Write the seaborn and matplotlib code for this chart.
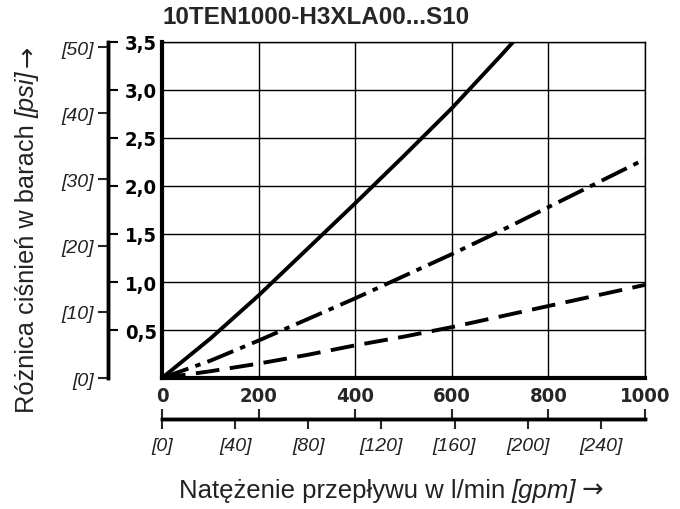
import numpy as np
import pandas as pd
import matplotlib
matplotlib.use("Agg")
import matplotlib.pyplot as plt
import seaborn as sns

# ---- data ----
title = "10TEN1000-H3XLA00...S10"
solid_x = [0, 100, 200, 300, 400, 500, 600, 700, 727]
solid_y = [0, 0.41, 0.86, 1.34, 1.82, 2.31, 2.81, 3.35, 3.5]
dashdot_x = [0, 100, 200, 300, 400, 500, 600, 700, 800, 900, 1000]
dashdot_y = [0, 0.18, 0.39, 0.61, 0.83, 1.06, 1.29, 1.53, 1.78, 2.03, 2.28]
dashed_x = [0, 100, 200, 300, 400, 500, 600, 700, 800, 900, 1000]
dashed_y = [0, 0.07, 0.15, 0.24, 0.34, 0.43, 0.53, 0.64, 0.75, 0.86, 0.97]

bar_ticks = [0.5, 1.0, 1.5, 2.0, 2.5, 3.0, 3.5]
bar_labels = ["0,5", "1,0", "1,5", "2,0", "2,5", "3,0", "3,5"]
psi_ticks = [0, 10, 20, 30, 40, 50]
psi_labels = ["[0]", "[10]", "[20]", "[30]", "[40]", "[50]"]
lpm_ticks = [0, 200, 400, 600, 800, 1000]
lpm_labels = ["0", "200", "400", "600", "800", "1000"]
gpm_ticks = [0, 40, 80, 120, 160, 200, 240]
gpm_labels = ["[0]", "[40]", "[80]", "[120]", "[160]", "[200]", "[240]"]
xlabel_parts = ["Natężenie przepływu w l/min", "[gpm]", "→"]
ylabel_parts = ["Różnica ciśnień w barach", "[psi]", "→"]
PSI_PER_BAR = 14.5038
LPM_PER_GPM = 3.78541

sns.set_theme(style="white")
plt.rcParams["font.family"] = ["Liberation Sans", "DejaVu Sans"]

W, H = 680, 510
fig = plt.figure(figsize=(W / 100, H / 100), dpi=100)
L, R, T, B = 162, 645, 43, 379
ax = fig.add_axes([L / W, 1 - B / H, (R - L) / W, (B - T) / H])

bold_cond = dict(family=["DejaVu Sans"], stretch="condensed", weight="bold", size=14.5)

df = pd.concat([
    pd.DataFrame({"x": solid_x, "y": solid_y, "s": "solid"}),
    pd.DataFrame({"x": dashdot_x, "y": dashdot_y, "s": "dashdot"}),
    pd.DataFrame({"x": dashed_x, "y": dashed_y, "s": "dashed"}),
])
styles = {"solid": None, "dashdot": (7.2, 1.9, 1.4, 1.9), "dashed": (6.1, 2.7)}
for name, dash in styles.items():
    sub = df[df.s == name]
    sns.lineplot(data=sub, x="x", y="y", ax=ax, color="black", lw=2.8, legend=False)
    l = ax.lines[-1]
    if dash is not None:
        l.set_dashes(dash)
    l.set_dash_capstyle("butt")
    l.set_solid_joinstyle("round")

ax.set_xlim(0, 1000)
ax.set_ylim(0, 3.5)
ax.set_xticks(lpm_ticks)
ax.set_xticklabels(lpm_labels, **bold_cond)
ax.set_yticks(bar_ticks)
ax.tick_params(axis="both", length=0)
ax.tick_params(axis="x", pad=6)
ax.tick_params(axis="y", left=False, labelleft=False)
ax.set_xlabel("")
ax.set_ylabel("")
ax.grid(True, color="black", lw=1.0)
for s in ["top", "right"]:
    ax.spines[s].set_linewidth(1.0)
    ax.spines[s].set_color("black")
for s in ["left", "bottom"]:
    ax.spines[s].set_linewidth(3.0)
    ax.spines[s].set_color("black")
    ax.spines[s].set_zorder(5)

# bar axis (ticks pointing right) at x = 108
pos = (108 - L) / (R - L)
axb = ax.twinx()
axb.set_ylim(0, 3.5)
axb.spines["right"].set_position(("axes", pos))
for s in ["top", "left", "bottom"]:
    axb.spines[s].set_visible(False)
axb.spines["right"].set_linewidth(2.5)
axb.spines["right"].set_color("black")
axb.set_yticks(bar_ticks)
axb.set_yticklabels(bar_labels, **bold_cond)
axb.tick_params(axis="y", right=True, direction="out", length=7, width=1.5, pad=5, colors="black")
axb.grid(False)

# psi axis (ticks pointing left)
axp = ax.twinx()
axp.set_ylim(0, 3.5 * PSI_PER_BAR)
axp.yaxis.set_ticks_position("left")
axp.spines["left"].set_position(("axes", pos))
for s in ["top", "right", "bottom"]:
    axp.spines[s].set_visible(False)
axp.spines["left"].set_linewidth(2.5)
axp.spines["left"].set_color("black")
axp.set_yticks(psi_ticks)
axp.set_yticklabels(psi_labels, style="italic", size=14, color="#222222")
axp.tick_params(axis="y", left=True, right=False, direction="out", length=7, width=1.5, pad=3)
axp.grid(False)

# l/min axis line below (ticks up) and gpm ticks (down)
off = (420 - B) * 72 / 100
axl = ax.twiny()
axl.set_xlim(0, 1000)
axl.xaxis.set_ticks_position("bottom")
axl.spines["bottom"].set_position(("outward", off))
for s in ["top", "left", "right"]:
    axl.spines[s].set_visible(False)
axl.spines["bottom"].set_linewidth(2.5)
axl.spines["bottom"].set_color("black")
axl.set_xticks(lpm_ticks)
axl.set_xticklabels([])
axl.tick_params(axis="x", bottom=True, top=False, direction="in", length=7, width=1.5)
axl.grid(False)

axg = ax.twiny()
axg.set_xlim(0, 1000 / LPM_PER_GPM)
axg.xaxis.set_ticks_position("bottom")
axg.spines["bottom"].set_position(("outward", off))
for s in ["top", "left", "right"]:
    axg.spines[s].set_visible(False)
axg.spines["bottom"].set_linewidth(2.5)
axg.spines["bottom"].set_color("black")
axg.set_xticks(gpm_ticks)
axg.set_xticklabels(gpm_labels, style="italic", size=14, color="#222222")
axg.tick_params(axis="x", bottom=True, top=False, direction="out", length=7, width=1.5, pad=6)
axg.grid(False)

fig.text(L / W, 1 - 18 / H, title, ha="left", va="center", fontsize=17.5, fontweight="bold")


def compound_label(parts, cx, cy, size, vertical):
    renderer = fig.canvas.get_renderer()
    styles_ = [dict(style="normal", family=["Liberation Sans"]),
               dict(style="italic", family=["Liberation Sans"]),
               dict(style="normal", family=["DejaVu Sans"])]
    texts = []
    for p, st in zip(parts, styles_):
        t = fig.text(0, 0, p, fontsize=size, color="#222222",
                     rotation=90 if vertical else 0,
                     ha="center" if vertical else "left",
                     va="bottom" if vertical else "center", **st)
        texts.append(t)
    gap = size * 0.30
    exts = [t.get_window_extent(renderer) for t in texts]
    lens = [(e.height if vertical else e.width) for e in exts]
    total = sum(lens) + gap * (len(lens) - 1)
    cur = (cy if vertical else cx) - total / 2
    for t, ln in zip(texts, lens):
        if vertical:
            t.set_position((cx / W, cur / H))
        else:
            t.set_position((cur / W, cy / H))
        cur += ln + gap


compound_label(xlabel_parts, 391, H - 491, 18.5, False)
compound_label(ylabel_parts, 27, H - 229, 18.3, True)

fig.savefig("out.png", dpi=100)
